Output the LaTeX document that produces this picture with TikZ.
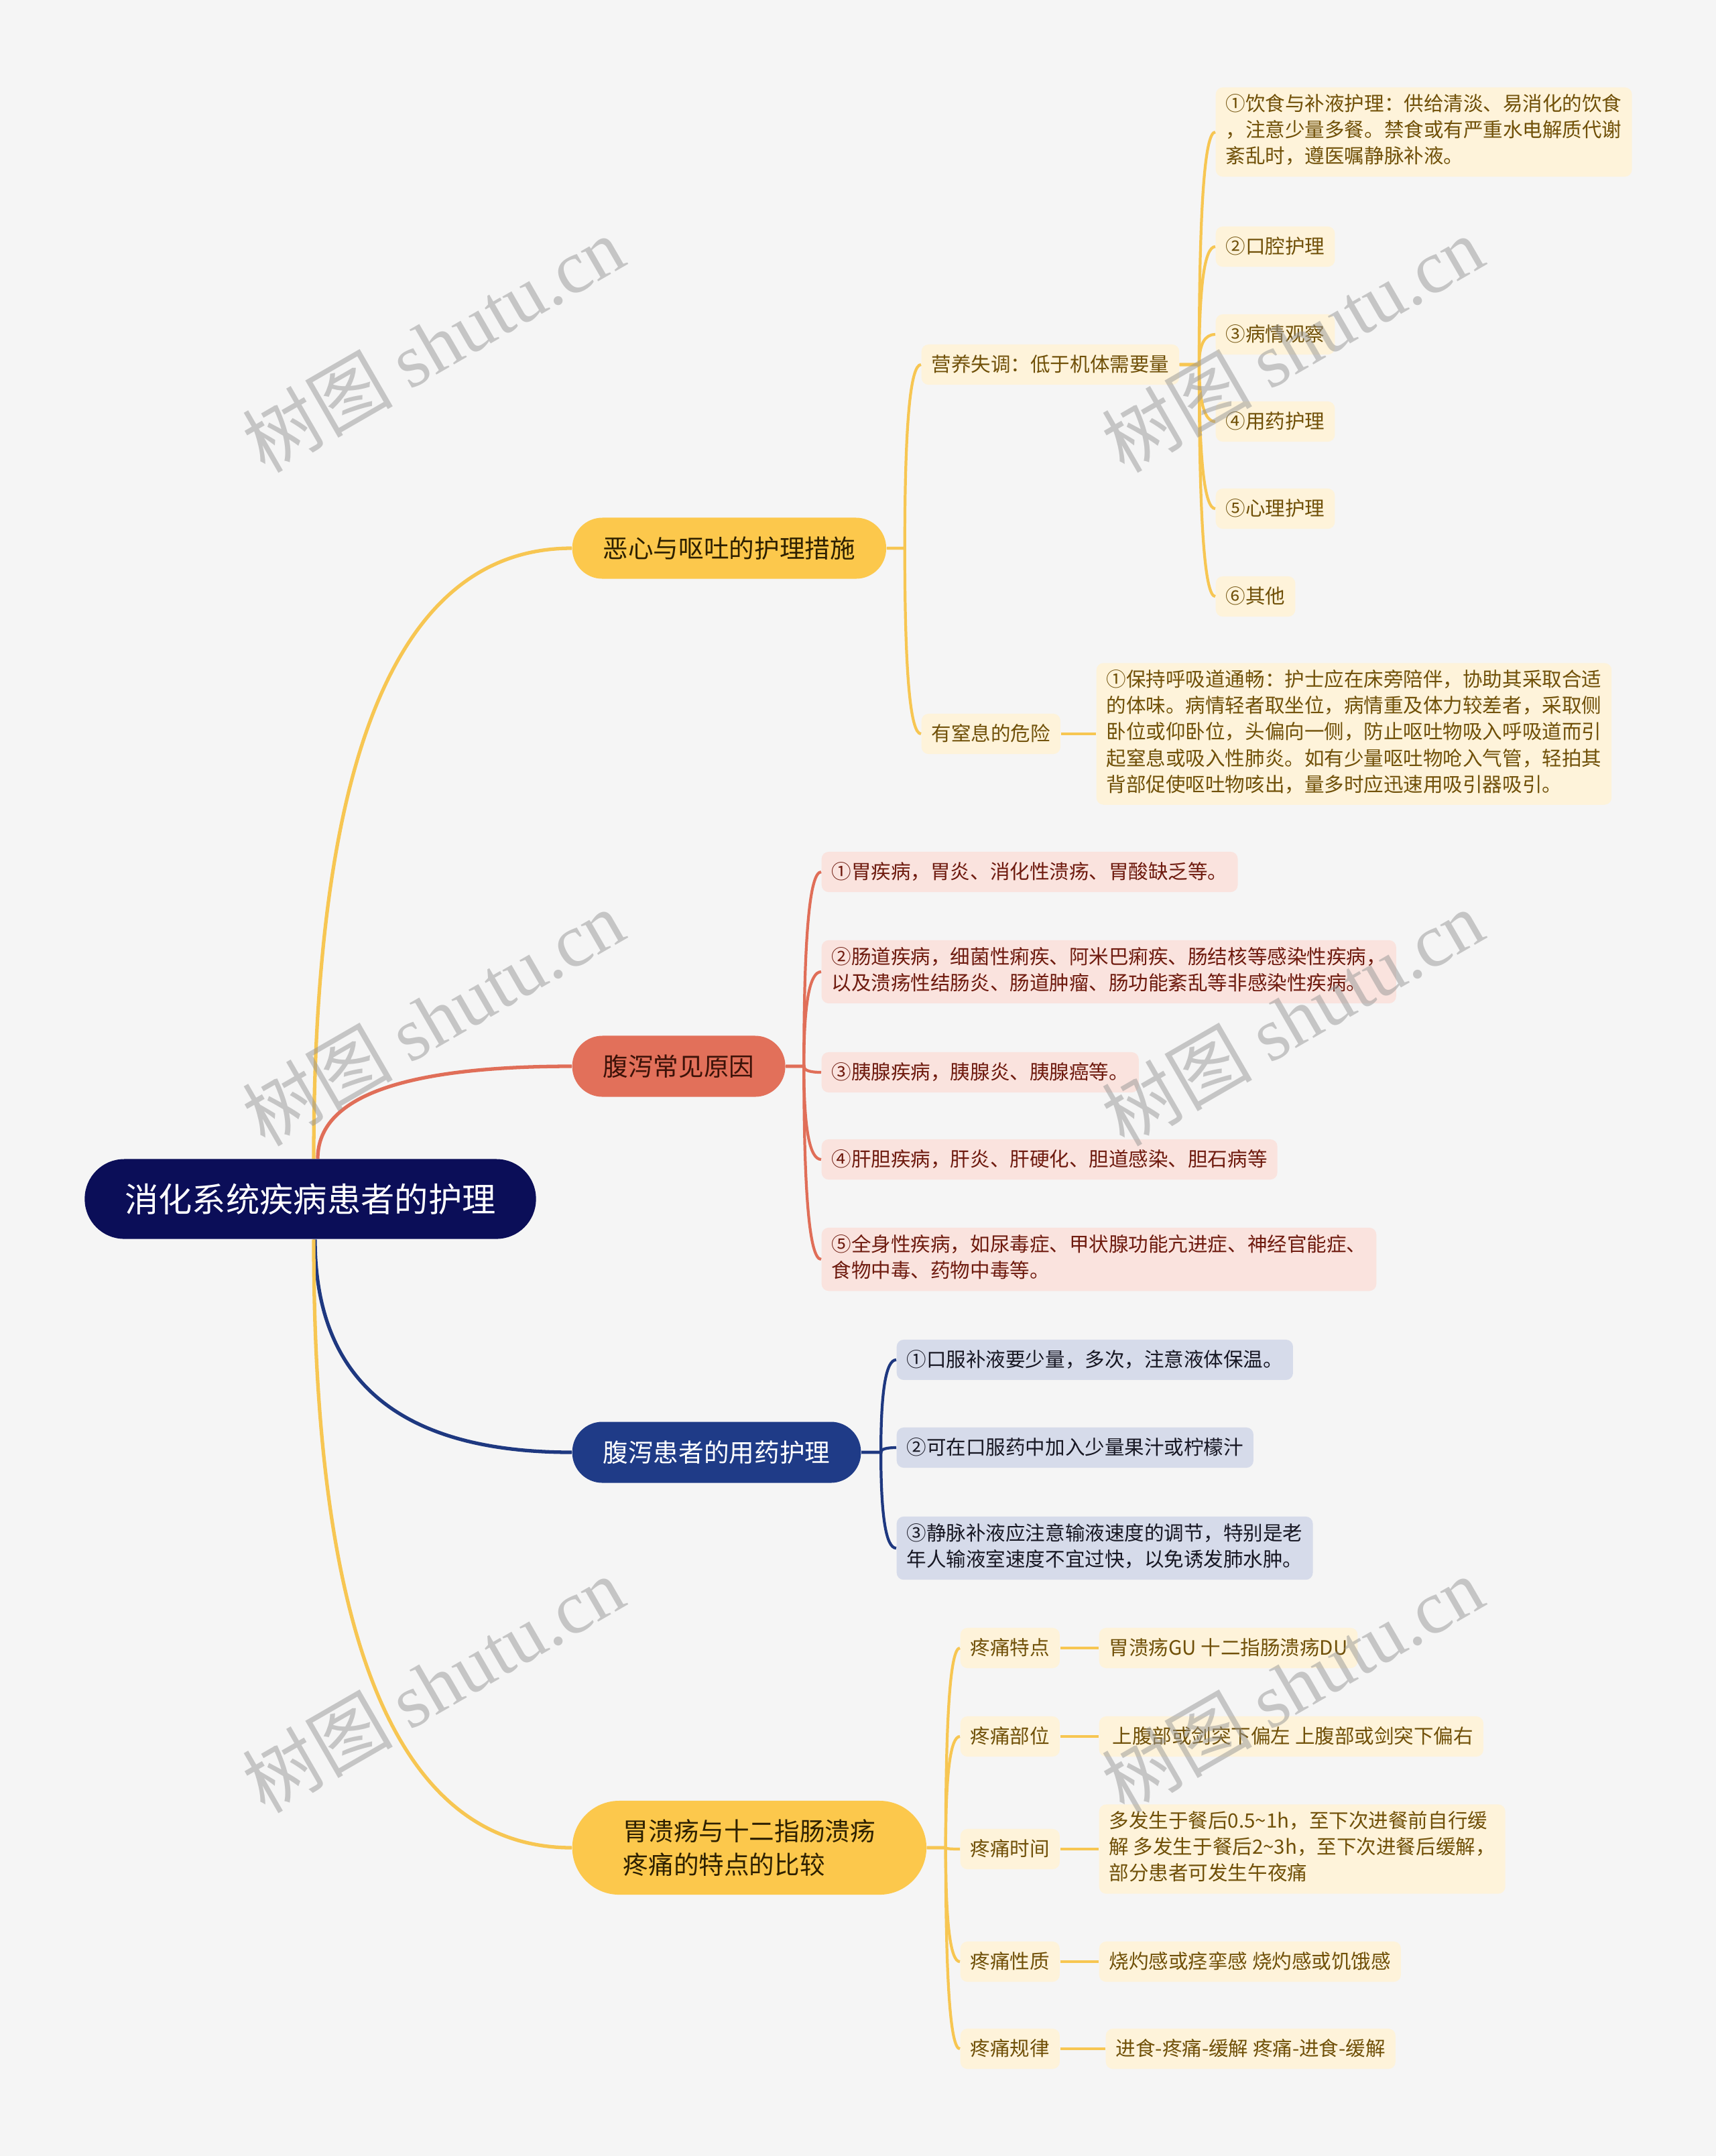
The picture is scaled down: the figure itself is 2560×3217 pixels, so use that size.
\documentclass[tikz,border=0pt]{standalone}
\usepackage{fontspec}
\setmainfont{Noto Sans CJK SC}
\newfontfamily\wmfont{Liberation Serif}
\usepackage{tikz}
\usetikzlibrary{positioning,calc}

\definecolor{bgc}{RGB}{245,245,245}
\definecolor{rootc}{RGB}{11,14,88}
\definecolor{ymain}{RGB}{252,200,76}
\definecolor{ylinec}{RGB}{247,198,82}
\definecolor{yleaf}{RGB}{254,243,218}
\definecolor{ytext}{RGB}{112,80,8}
\definecolor{ydark}{RGB}{45,32,0}
\definecolor{cmain}{RGB}{226,112,90}
\definecolor{clinec}{RGB}{224,110,88}
\definecolor{cleaf}{RGB}{250,227,222}
\definecolor{ctext}{RGB}{110,26,14}
\definecolor{cdark}{RGB}{60,18,8}
\definecolor{bmain}{RGB}{31,59,135}
\definecolor{blinec}{RGB}{30,56,128}
\definecolor{bleaf}{RGB}{214,219,234}
\definecolor{btext}{RGB}{22,22,34}
\definecolor{wmc}{RGB}{150,150,150}

\newcommand\lstrut{\rule[-2.6pt]{0pt}{11.1pt}}

\tikzset{
  leaf/.style={rounded corners=3pt, inner xsep=0.15cm, inner ysep=3pt, align=left, anchor=west,
    font=\fontsize{8.4}{11.1}\selectfont, execute at begin node=\lstrut, execute at end node=\lstrut},
  leafy/.style={leaf, fill=yleaf, text=ytext},
  leafc/.style={leaf, fill=cleaf, text=ctext},
  leafb/.style={leaf, fill=bleaf, text=btext},
  branch/.style={rounded corners=0.45cm, minimum height=0.91cm, inner xsep=0.46cm, inner ysep=0pt,
    anchor=west, font=\fontsize{10.7}{14}\selectfont},
  rootline/.style={line width=1.5pt},
  yline/.style={line width=1.2pt, draw=ylinec},
  cline/.style={line width=1.2pt, draw=clinec},
  bline/.style={line width=1.2pt, draw=blinec},
  wmark/.style={rotate=30, text=wmc, text opacity=0.5, font=\fontsize{32}{32}\selectfont}
}

\begin{document}
\begin{tikzpicture}[x=0.01cm, y=-0.01cm]
    \fill[bgc] (0,0) rectangle (2560,3217);
    \useasboundingbox (0,0) rectangle (2560,3217);

    % root
    \node[fill=rootc, text=white, rounded corners=0.59cm, minimum height=1.19cm, inner xsep=0.6cm,
      inner ysep=0pt, font=\fontsize{14.3}{17}\selectfont] (root) at (463,1789) {消化系统疾病患者的护理};

    % main branches
    \node[branch, fill=ymain, text=ydark] (b1) at (853,818) {恶心与呕吐的护理措施};
    \node[branch, fill=cmain, text=cdark] (b2) at (853,1591) {腹泻常见原因};
    \node[branch, fill=bmain, text=white] (b3) at (853,2167) {腹泻患者的用药护理};
    \node[branch, fill=ymain, text=ydark, align=left, minimum height=1.40cm, rounded corners=0.7cm,
      inner xsep=0.76cm] (b4) at (853,2757) {胃溃疡与十二指肠溃疡\\疼痛的特点的比较};

    % branch 1: nausea and vomiting
    \node[leafy] (n1a) at (1374,544) {营养失调：低于机体需要量};
    \node[leafy] (n1b) at (1374,1095) {有窒息的危险};
    \node[leafy] (n1a1) at (1813,197) {①饮食与补液护理：供给清淡、易消化的饮食\\，注意少量多餐。禁食或有严重水电解质代谢\\紊乱时，遵医嘱静脉补液。};
    \node[leafy] (n1a2) at (1813,368) {②口腔护理};
    \node[leafy] (n1a3) at (1813,499) {③病情观察};
    \node[leafy] (n1a4) at (1813,629) {④用药护理};
    \node[leafy] (n1a5) at (1813,759) {⑤心理护理};
    \node[leafy] (n1a6) at (1813,890) {⑥其他};
    \node[leafy] (n1b1) at (1635,1095) {①保持呼吸道通畅：护士应在床旁陪伴，协助其采取合适\\的体味。病情轻者取坐位，病情重及体力较差者，采取侧\\卧位或仰卧位，头偏向一侧，防止呕吐物吸入呼吸道而引\\起窒息或吸入性肺炎。如有少量呕吐物呛入气管，轻拍其\\背部促使呕吐物咳出，量多时应迅速用吸引器吸引。};

    % branch 2: causes of diarrhea
    \node[leafc] (n2a) at (1225,1301) {①胃疾病，胃炎、消化性溃疡、胃酸缺乏等。};
    \node[leafc] (n2b) at (1225,1450) {②肠道疾病，细菌性痢疾、阿米巴痢疾、肠结核等感染性疾病，\\以及溃疡性结肠炎、肠道肿瘤、肠功能紊乱等非感染性疾病。};
    \node[leafc] (n2c) at (1225,1600) {③胰腺疾病，胰腺炎、胰腺癌等。};
    \node[leafc] (n2d) at (1225,1730) {④肝胆疾病，肝炎、肝硬化、胆道感染、胆石病等};
    \node[leafc] (n2e) at (1225,1879) {⑤全身性疾病，如尿毒症、甲状腺功能亢进症、神经官能症、\\食物中毒、药物中毒等。};

    % branch 3: medication
    \node[leafb] (n3a) at (1337,2029) {①口服补液要少量，多次，注意液体保温。};
    \node[leafb] (n3b) at (1337,2160) {②可在口服药中加入少量果汁或柠檬汁};
    \node[leafb] (n3c) at (1337,2310) {③静脉补液应注意输液速度的调节，特别是老\\年人输液室速度不宜过快，以免诱发肺水肿。};

    % branch 4: ulcer pain comparison
    \node[leafy] (n4a) at (1432,2459) {疼痛特点};
    \node[leafy] (n4b) at (1432,2591) {疼痛部位};
    \node[leafy] (n4c) at (1432,2759) {疼痛时间};
    \node[leafy] (n4d) at (1432,2927) {疼痛性质};
    \node[leafy] (n4e) at (1432,3057) {疼痛规律};
    \node[leafy] (n4a1) at (1639,2459) {胃溃疡GU 十二指肠溃疡DU};
    \node[leafy] (n4b1) at (1639,2591) {\,上腹部或剑突下偏左 上腹部或剑突下偏右};
    \node[leafy] (n4c1) at (1639,2759) {多发生于餐后0.5\textasciitilde1h，至下次进餐前自行缓\\解 多发生于餐后2\textasciitilde3h，至下次进餐后缓解，\\部分患者可发生午夜痛};
    \node[leafy] (n4d1) at (1639,2927) {烧灼感或痉挛感 烧灼感或饥饿感};
    \node[leafy] (n4e1) at (1649,3057) {进食-疼痛-缓解 疼痛-进食-缓解};

    % root connectors
    \coordinate (ry1) at ([xshift=0.05cm]root.north);
    \coordinate (rc) at ([xshift=0.11cm]root.north);
    \coordinate (ry2) at ([xshift=0.05cm]root.south);
    \coordinate (rb) at ([xshift=0.07cm]root.south);
    \draw[rootline, ylinec] (ry1) .. controls ($(ry1)!0.667!(ry1 |- b1.west)$) and ($(b1.west)!0.667!(ry1 |- b1.west)$) .. (b1.west);
    \draw[rootline, clinec] (rc) .. controls ($(rc)!0.667!(rc |- b2.west)$) and ($(b2.west)!0.667!(rc |- b2.west)$) .. (b2.west);
    \draw[rootline, blinec] (rb) .. controls ($(rb)!0.667!(rb |- b3.west)$) and ($(b3.west)!0.667!(rb |- b3.west)$) .. (b3.west);
    \draw[rootline, ylinec] (ry2) .. controls ($(ry2)!0.667!(ry2 |- b4.west)$) and ($(b4.west)!0.667!(ry2 |- b4.west)$) .. (b4.west);

    % branch connectors
    \coordinate (b1j) at ([xshift=0.27cm]b1.east);
    \coordinate (n1aj) at ([xshift=0.29cm]n1a.east);
    \coordinate (b2j) at ([xshift=0.27cm]b2.east);
    \coordinate (b3j) at ([xshift=0.29cm]b3.east);
    \coordinate (b4j) at ([xshift=0.28cm]b4.east);
    \foreach \c in {n1a,n1b}
      \draw[yline] (b1.east) -- (b1j) .. controls ($(b1j)!0.667!(b1j |- \c.west)$) and ($(\c.west)!0.667!(b1j |- \c.west)$) .. (\c.west);
    \foreach \c in {n1a1,n1a2,n1a3,n1a4,n1a5,n1a6}
      \draw[yline] (n1a.east) -- (n1aj) .. controls ($(n1aj)!0.667!(n1aj |- \c.west)$) and ($(\c.west)!0.667!(n1aj |- \c.west)$) .. (\c.west);
    \draw[yline] (n1b.east) -- (n1b1.west);
    \foreach \c in {n2a,n2b,n2c,n2d,n2e}
      \draw[cline] (b2.east) -- (b2j) .. controls ($(b2j)!0.667!(b2j |- \c.west)$) and ($(\c.west)!0.667!(b2j |- \c.west)$) .. (\c.west);
    \foreach \c in {n3a,n3b,n3c}
      \draw[bline] (b3.east) -- (b3j) .. controls ($(b3j)!0.667!(b3j |- \c.west)$) and ($(\c.west)!0.667!(b3j |- \c.west)$) .. (\c.west);
    \foreach \c in {n4a,n4b,n4c,n4d,n4e}
      \draw[yline] (b4.east) -- (b4j) .. controls ($(b4j)!0.667!(b4j |- \c.west)$) and ($(\c.west)!0.667!(b4j |- \c.west)$) .. (\c.west);
    \foreach \c in {n4a,n4b,n4c,n4d,n4e}
      \draw[yline] (\c.east) -- (\c1.west);

    % watermarks
    \foreach \wx in {646,1928}
      \foreach \wy in {513,1518,2513}
        \node[wmark] (wm\wx\wy) at (\wx,\wy) {树图 {\wmfont shutu.cn}};
\end{tikzpicture}
\end{document}
